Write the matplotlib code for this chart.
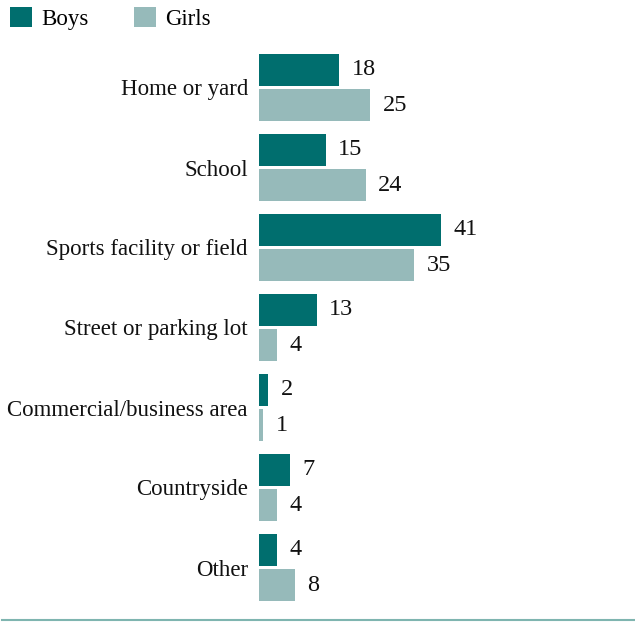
import matplotlib
matplotlib.use("Agg")
import matplotlib.pyplot as plt
import numpy as np
from matplotlib.lines import Line2D

categories = ["Home or yard", "School", "Sports facility or field", "Street or parking lot",
              "Commercial/business area", "Countryside", "Other"]
boys = [18, 15, 41, 13, 2, 7, 4]
girls = [25, 24, 35, 4, 1, 4, 8]

boys_color = "#006E6E"
girls_color = "#96BABA"

plt.rcParams["font.family"] = ["Liberation Serif", "DejaVu Serif"]

W, H = 635, 622
fig = plt.figure(figsize=(W / 100, H / 100), dpi=100)
ax_left, ax_right = 259, 635
ax_top, ax_bottom = 40, 615
ax = fig.add_axes([ax_left / W, 1 - ax_bottom / H, (ax_right - ax_left) / W, (ax_bottom - ax_top) / H])

px_per_unit = 182 / 41
y = np.arange(len(categories))
bh = 0.4
off = 0.219
b1 = ax.barh(y - off, boys, height=bh, color=boys_color, label="Boys")
b2 = ax.barh(y + off, girls, height=bh, color=girls_color, label="Girls")

ax.set_xlim(0, (ax_right - ax_left) / px_per_unit)
ax.set_ylim((ax_bottom - 87.5) / 80, (ax_top - 87.5) / 80)

for bars, vals in ((b1, boys), (b2, girls)):
    for rect, v in zip(bars, vals):
        ax.annotate(str(v), (v, rect.get_y() + rect.get_height() / 2),
                    xytext=(9, 0), textcoords="offset points",
                    ha="left", va="center", fontsize=17.5, color="#111111")

ax.set_yticks(y)
ax.set_yticklabels(categories, fontsize=16.5, color="#111111")
ax.tick_params(axis="y", length=0, pad=8)
ax.set_xticks([])
for s in ax.spines.values():
    s.set_visible(False)

fig.legend(handles=[b1, b2], labels=["Boys", "Girls"], loc="upper left",
           bbox_to_anchor=(10 / W, 1 - 7 / H), ncol=2, frameon=False, fontsize=16.5,
           handlelength=0.95, handleheight=0.95, handletextpad=0.4, columnspacing=2.0,
           borderaxespad=0, borderpad=0)

fig.add_artist(Line2D([2 / W, 1], [1 - 620 / H, 1 - 620 / H], transform=fig.transFigure,
                      color="#7FB5B0", linewidth=1.5))

fig.savefig("out.png", dpi=100)
